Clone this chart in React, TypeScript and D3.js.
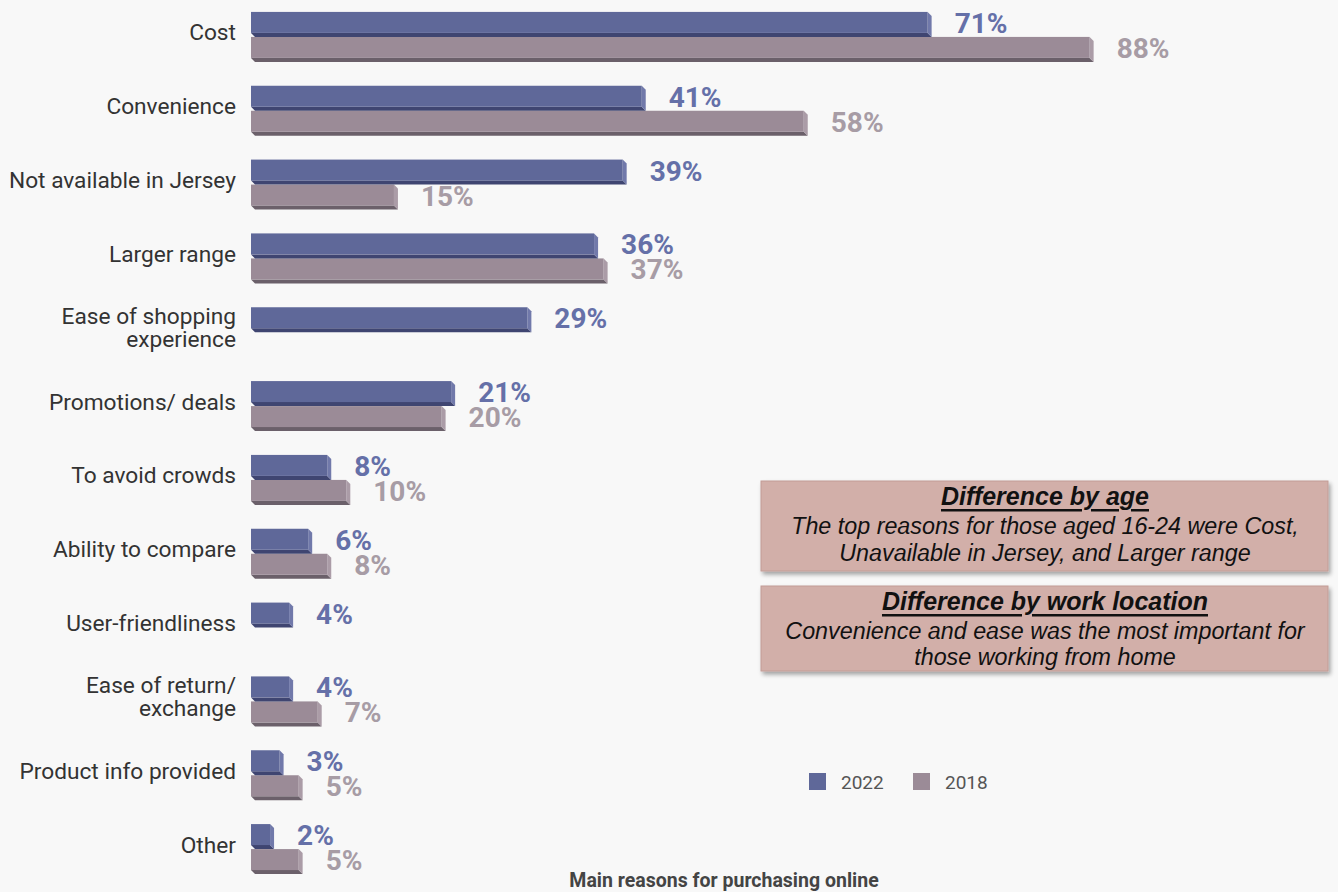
import React from "react";
import * as d3 from "d3";

const categories = [
  "Cost",
  "Convenience",
  "Not available in Jersey",
  "Larger range",
  "Ease of shopping\nexperience",
  "Promotions/ deals",
  "To avoid crowds",
  "Ability to compare",
  "User-friendliness",
  "Ease of return/\nexchange",
  "Product info provided",
  "Other",
];
const series = ["2022", "2018"];
const values2022: (number | null)[] = [71, 41, 39, 36, 29, 21, 8, 6, 4, 4, 3, 2];
const values2018: (number | null)[] = [88, 58, 15, 37, null, 20, 10, 8, null, 7, 5, 5];

const boxTitles = ["Difference by age", "Difference by work location"];
const boxLines = [
  ["The top reasons for those aged 16-24 were Cost,", "Unavailable in Jersey, and Larger range"],
  ["Convenience and ease was the most important for", "those working from home"],
];
const axisTitle = "Main reasons for purchasing online";

const W = 1338;
const H = 892;

const colors: Record<string, { front: string; side: string; bottom: string; label: string }> = {
  "2022": { front: "#5f6899", side: "#7179aa", bottom: "#3f4571", label: "#6570a8" },
  "2018": { front: "#9b8b97", side: "#ab9ca7", bottom: "#6b606a", label: "#a79ca5" },
};

export default function App() {
  const x = d3.scaleLinear().domain([0, 100]).range([251, 1204]);
  const y = d3.scaleBand<string>().domain(categories).range([-2, 884]).padding(0);
  const step = y.step();
  const inner = d3
    .scaleBand<string>()
    .domain(series)
    .range([step / 2 - 23, step / 2 + 27]);
  const bw = inner.bandwidth();
  const frontH = bw - 4;
  const depth = 4;

  const dataBySeries: Record<string, (number | null)[]> = { "2022": values2022, "2018": values2018 };

  const bar = (cat: string, s: string, v: number) => {
    const top = (y(cat) as number) + (inner(s) as number);
    const x0 = x(0);
    const x1 = x(v);
    const c = colors[s];
    const yb = top + frontH;
    return (
      <g key={cat + s}>
        <polygon
          points={`${x0},${yb} ${x1},${yb} ${x1 + depth},${yb + depth} ${x0 + depth},${yb + depth}`}
          fill={c.bottom}
        />
        <polygon
          points={`${x1},${top} ${x1 + depth},${top + depth} ${x1 + depth},${yb + depth} ${x1},${yb}`}
          fill={c.side}
        />
        <rect x={x0} y={top} width={x1 - x0} height={frontH} fill={c.front} />
        <text
          x={x1 + 27}
          y={top + bw / 2 - 1}
          dominantBaseline="central"
          fontFamily="Roboto, sans-serif"
          fontWeight={700}
          fontSize={28}
          fill={c.label}
        >
          {v}%
        </text>
      </g>
    );
  };

  return (
    <svg
      width={W}
      height={H}
      style={{ position: "absolute", left: 0, top: 0 }}
      xmlns="http://www.w3.org/2000/svg"
    >
      <defs>
        <filter id="shadow" x="-5%" y="-10%" width="110%" height="130%">
          <feDropShadow dx="2" dy="3" stdDeviation="2" floodColor="#000" floodOpacity="0.35" />
        </filter>
      </defs>
      <rect x={0} y={0} width={W} height={H} fill="#f8f8f8" />

      {/* category labels */}
      {categories.map((cat) => {
        const c = (y(cat) as number) + step / 2;
        const lines = cat.split("\n");
        return (
          <text
            key={cat}
            x={236}
            textAnchor="end"
            fontFamily="Roboto, sans-serif"
            fontSize={22.7}
            fill="#333"
          >
            {lines.map((ln, i) => (
              <tspan
                key={i}
                x={236}
                y={c - 2 + (i - (lines.length - 1) / 2) * 23}
                dominantBaseline="central"
              >
                {ln}
              </tspan>
            ))}
          </text>
        );
      })}

      {/* bars: 2018 first so 2022 bottom face sits above it */}
      {["2018", "2022"].map((s) =>
        categories.map((cat, i) => {
          const v = dataBySeries[s][i];
          return v == null ? null : bar(cat, s, v);
        })
      )}

      {/* annotation boxes */}
      {[
        { y0: 481, h: 90, ty: 496, ly: [526, 553] },
        { y0: 586, h: 85, ty: 601, ly: [631, 657] },
      ].map((b, i) => (
        <g key={i}>
          <rect
            x={761}
            y={b.y0}
            width={567}
            height={b.h}
            fill="#d2afa9"
            stroke="#c29c96"
            strokeWidth={1}
            filter="url(#shadow)"
          />
          <text
            x={1045}
            y={b.ty}
            textAnchor="middle"
            dominantBaseline="central"
            fontFamily="'Liberation Sans', Arial, sans-serif"
            fontStyle="italic"
            fontWeight={700}
            fontSize={25}
            fill="#111"
            textDecoration="underline"
          >
            {boxTitles[i]}
          </text>
          {boxLines[i].map((ln, j) => (
            <text
              key={j}
              x={1045}
              y={b.ly[j]}
              textAnchor="middle"
              dominantBaseline="central"
              fontFamily="'Liberation Sans', Arial, sans-serif"
              fontStyle="italic"
              fontSize={23.3}
              fill="#111"
            >
              {ln}
            </text>
          ))}
        </g>
      ))}

      {/* legend */}
      {series.map((s, i) => {
        const lx = 809 + i * 104;
        return (
          <g key={s}>
            <rect x={lx} y={773} width={17} height={17} fill={colors[s].front} />
            <text
              x={lx + 32}
              y={782}
              dominantBaseline="central"
              fontFamily="Roboto, sans-serif"
              fontSize={19}
              fill="#555"
            >
              {s}
            </text>
          </g>
        );
      })}

      {/* axis title */}
      <text
        x={724}
        y={880}
        textAnchor="middle"
        dominantBaseline="central"
        fontFamily="Roboto, sans-serif"
        fontWeight={700}
        fontSize={19.5}
        fill="#444"
      >
        {axisTitle}
      </text>
    </svg>
  );
}
